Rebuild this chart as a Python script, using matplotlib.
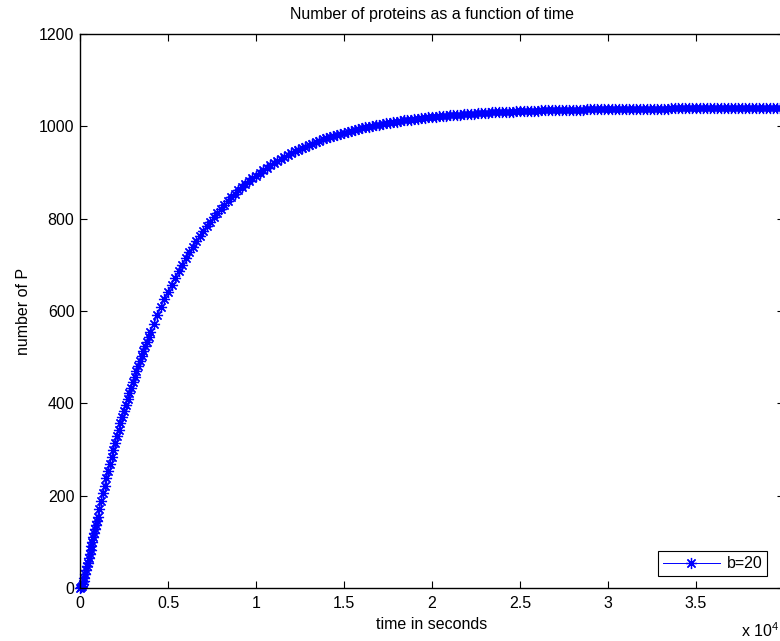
import matplotlib
matplotlib.use("Agg")
import matplotlib.pyplot as plt

plt.rcParams['font.family'] = ['Liberation Sans', 'DejaVu Sans']
plt.rcParams['mathtext.fontset'] = 'custom'
plt.rcParams['mathtext.rm'] = 'Liberation Sans'
plt.rcParams['mathtext.it'] = 'Liberation Sans'

# time in seconds
time_s = [
    0, 50, 100, 150, 200, 250, 300, 350, 400, 450,
    500, 550, 600, 650, 700, 750, 800, 850, 900, 950,
    1000, 1100, 1200, 1300, 1400, 1500, 1600, 1700, 1800, 1900,
    2000, 2100, 2200, 2300, 2400, 2500, 2600, 2700, 2800, 2900,
    3000, 3100, 3200, 3300, 3400, 3500, 3600, 3700, 3800, 3900,
    4000, 4200, 4400, 4600, 4800, 5000, 5200, 5400, 5600, 5800,
    6000, 6200, 6400, 6600, 6800, 7000, 7200, 7400, 7600, 7800,
    8000, 8200, 8400, 8600, 8800, 9000, 9200, 9400, 9600, 9800,
    10000, 10200, 10400, 10600, 10800, 11000, 11200, 11400, 11600, 11800,
    12000, 12200, 12400, 12600, 12800, 13000, 13200, 13400, 13600, 13800,
    14000, 14200, 14400, 14600, 14800, 15000, 15200, 15400, 15600, 15800,
    16000, 16200, 16400, 16600, 16800, 17000, 17200, 17400, 17600, 17800,
    18000, 18200, 18400, 18600, 18800, 19000, 19200, 19400, 19600, 19800,
    20000, 20200, 20400, 20600, 20800, 21000, 21200, 21400, 21600, 21800,
    22000, 22200, 22400, 22600, 22800, 23000, 23200, 23400, 23600, 23800,
    24000, 24200, 24400, 24600, 24800, 25000, 25200, 25400, 25600, 25800,
    26000, 26200, 26400, 26600, 26800, 27000, 27200, 27400, 27600, 27800,
    28000, 28200, 28400, 28600, 28800, 29000, 29200, 29400, 29600, 29800,
    30000, 30200, 30400, 30600, 30800, 31000, 31200, 31400, 31600, 31800,
    32000, 32200, 32400, 32600, 32800, 33000, 33200, 33400, 33600, 33800,
    34000, 34200, 34400, 34600, 34800, 35000, 35200, 35400, 35600, 35800,
    36000, 36200, 36400, 36600, 36800, 37000, 37200, 37400, 37600, 37800,
    38000, 38200, 38400, 38600, 38800, 39000, 39200, 39400, 39600, 39800,
    40000,
]

# number of proteins P (b=20)
proteins_b20 = [
    0.0, 1.4, 4.8, 9.6, 15.7, 22.6, 30.1, 38.1, 46.6, 55.2,
    64.1, 73.1, 82.1, 91.2, 100.3, 109.4, 118.4, 127.4, 136.4, 145.3,
    154.1, 171.5, 188.6, 205.5, 222.0, 238.2, 254.0, 269.6, 284.8, 299.8,
    314.4, 328.8, 342.9, 356.7, 370.2, 383.5, 396.5, 409.2, 421.7, 434.0,
    446.0, 457.7, 469.3, 480.6, 491.6, 502.5, 513.1, 523.6, 533.8, 543.8,
    553.6, 572.7, 591.0, 608.6, 625.6, 641.8, 657.4, 672.4, 686.8, 700.7,
    714.0, 726.8, 739.0, 750.9, 762.2, 773.1, 783.6, 793.6, 803.3, 812.6,
    821.5, 830.0, 838.3, 846.2, 853.8, 861.1, 868.1, 874.8, 881.3, 887.5,
    893.5, 899.3, 904.8, 910.1, 915.2, 920.1, 924.8, 929.3, 933.6, 937.8,
    941.8, 945.7, 949.4, 952.9, 956.3, 959.6, 962.8, 965.8, 968.7, 971.5,
    974.2, 976.8, 979.2, 981.6, 983.9, 986.1, 988.2, 990.3, 992.2, 994.1,
    995.9, 997.6, 999.3, 1000.9, 1002.4, 1003.9, 1005.3, 1006.7, 1008.0, 1009.2,
    1010.4, 1011.6, 1012.7, 1013.8, 1014.8, 1015.8, 1016.7, 1017.7, 1018.5, 1019.4,
    1020.2, 1021.0, 1021.7, 1022.4, 1023.1, 1023.8, 1024.4, 1025.0, 1025.6, 1026.2,
    1026.7, 1027.2, 1027.7, 1028.2, 1028.7, 1029.1, 1029.5, 1030.0, 1030.4, 1030.7,
    1031.1, 1031.4, 1031.8, 1032.1, 1032.4, 1032.7, 1033.0, 1033.3, 1033.5, 1033.8,
    1034.0, 1034.3, 1034.5, 1034.7, 1034.9, 1035.1, 1035.3, 1035.5, 1035.7, 1035.8,
    1036.0, 1036.2, 1036.3, 1036.4, 1036.6, 1036.7, 1036.9, 1037.0, 1037.1, 1037.2,
    1037.3, 1037.4, 1037.5, 1037.6, 1037.7, 1037.8, 1037.9, 1038.0, 1038.1, 1038.1,
    1038.2, 1038.3, 1038.3, 1038.4, 1038.5, 1038.5, 1038.6, 1038.6, 1038.7, 1038.7,
    1038.8, 1038.8, 1038.9, 1038.9, 1039.0, 1039.0, 1039.1, 1039.1, 1039.1, 1039.2,
    1039.2, 1039.2, 1039.3, 1039.3, 1039.3, 1039.3, 1039.4, 1039.4, 1039.4, 1039.4,
    1039.5, 1039.5, 1039.5, 1039.5, 1039.5, 1039.6, 1039.6, 1039.6, 1039.6, 1039.6,
    1039.6,
]

series_label = "b=20"
x_ticks = [0, 5000, 10000, 15000, 20000, 25000, 30000, 35000, 40000]
x_tick_labels = ["0", "0.5", "1", "1.5", "2", "2.5", "3", "3.5", "4"]
y_ticks = [0, 200, 400, 600, 800, 1000, 1200]

FS = 11.5
W, H = 780, 641
fig = plt.figure(figsize=(W / 100, H / 100), dpi=100)
ax = fig.add_axes([80 / W, (H - 588) / H, 704 / W, 554 / H])

asterisk = (8, 2, 0)
ax.plot(time_s, proteins_b20, color=(0, 0, 1), linewidth=0.7,
        marker=asterisk, markersize=8, markeredgewidth=0.9,
        markeredgecolor=(0, 0, 1), label=series_label, clip_on=False)

ax.set_xlim(0, 40000)
ax.set_ylim(0, 1200)
ax.set_xticks(x_ticks)
ax.set_xticklabels(x_tick_labels)
ax.set_yticks(y_ticks)
ax.tick_params(direction='in', length=5, width=0.8, top=True, right=True,
               labelsize=FS, pad=4, colors='black')
ax.tick_params(axis='x', pad=6)
for sp in ax.spines.values():
    sp.set_linewidth(1.0)

ax.set_title("Number of proteins as a function of time", fontsize=FS, pad=11)
ax.set_xlabel("time in seconds", fontsize=FS, labelpad=4)
ax.set_ylabel("number of P", fontsize=FS, labelpad=6)

fig.text(741 / W, 1 - 631 / H, r"x 10$^{4}$", fontsize=FS, ha='left', va='center')

leg = ax.legend(loc='lower right', bbox_to_anchor=(0.976, 0.0217),
                borderaxespad=0, fancybox=False, framealpha=1,
                edgecolor='black', fontsize=FS, handlelength=3.6,
                borderpad=0.3, handletextpad=0.4)
leg.get_frame().set_linewidth(0.8)

fig.savefig("out.png", dpi=100)
